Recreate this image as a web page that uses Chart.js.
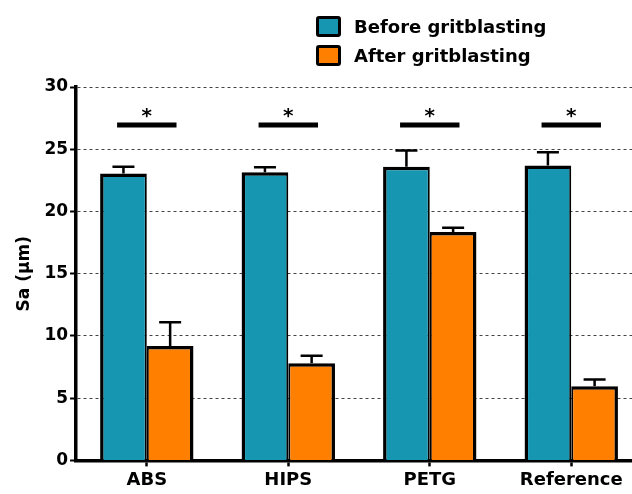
<!DOCTYPE html>
<html>
<head>
<meta charset="utf-8">
<script src="https://cdn.jsdelivr.net/npm/chart.js@4.4.1/dist/chart.umd.min.js"></script>
<style>
  html, body { margin:0; padding:0; background:#fff; overflow:hidden; }
  #wrap { position:relative; width:642px; height:494px; }
  #legend { position:absolute; left:316px; top:12px; font-family:"DejaVu Sans", sans-serif; font-weight:bold; font-size:18px; color:#000; }
  .item { display:flex; align-items:center; height:29px; }
  .box { width:19px; height:15px; border:3px solid #000; border-radius:3px; margin-right:13px; }
</style>
</head>
<body>
<div id="wrap">
  <canvas id="saChart" width="642" height="494"></canvas>
  <div id="legend"></div>
</div>
<script>
const categories = ['ABS', 'HIPS', 'PETG', 'Reference'];
const seriesNames = ['Before gritblasting', 'After gritblasting'];
const beforeValues = [23.05, 23.15, 23.6, 23.7];
const beforeErrors = [0.55, 0.4, 1.3, 1.05];
const afterValues = [9.2, 7.8, 18.35, 5.95];
const afterErrors = [1.9, 0.6, 0.35, 0.55];
const sigLevels = [26.95, 26.95, 26.95, 26.95];
const sigMarks = ['*', '*', '*', '*'];
const yTicks = [0, 5, 10, 15, 20, 25, 30];

const teal = '#1796b1';
const orange = '#ff8000';
const errors = [beforeErrors, afterErrors];

// error bars drawn above each bar (mean + SD)
const errorBars = {
    id: 'errorBars',
    afterDatasetsDraw(chart){
        const c = chart.ctx;
        const y = chart.scales.y;
        c.save();
        c.strokeStyle = '#000';
        c.lineWidth = 2.5;
        chart.data.datasets.forEach((ds, i) => {
            chart.getDatasetMeta(i).data.forEach((bar, j) => {
                const top = y.getPixelForValue(ds.data[j] + errors[i][j]);
                c.beginPath();
                c.moveTo(bar.x, bar.y);
                c.lineTo(bar.x, top);
                c.moveTo(bar.x - 11, top);
                c.lineTo(bar.x + 11, top);
                c.stroke();
            });
        });
        c.restore();
    }
};

// significance line + star over each pair
const sigBars = {
    id: 'sigBars',
    afterDatasetsDraw(chart){
        const c = chart.ctx;
        const x = chart.scales.x;
        const y = chart.scales.y;
        const half = x.width / categories.length * 0.21;
        c.save();
        c.strokeStyle = '#000';
        c.fillStyle = '#000';
        c.lineWidth = 5;
        c.font = 'bold 20px "DejaVu Sans"';
        c.textAlign = 'center';
        c.textBaseline = 'alphabetic';
        sigLevels.forEach((v, j) => {
            const cx = x.getPixelForValue(j);
            const py = y.getPixelForValue(v);
            c.beginPath();
            c.moveTo(cx - half, py);
            c.lineTo(cx + half, py);
            c.stroke();
            c.fillText(sigMarks[j], cx, py - 3);
        });
        c.restore();
    }
};

const ctx = document.getElementById('saChart');

new Chart(ctx, {
    type: 'bar',
    data: {
        labels: categories,
        datasets: [{
            label: seriesNames[0],
            data: beforeValues,
            backgroundColor: teal,
            borderColor: '#000',
            borderWidth: {top:3.5, left:3.5, right:2, bottom:0}
        },{
            label: seriesNames[1],
            data: afterValues,
            backgroundColor: orange,
            borderColor: '#000',
            borderWidth: {top:3.5, left:2, right:3.5, bottom:0}
        }]
    },
    options: {
        responsive: false,
        animation: false,
        categoryPercentage: 0.66,
        barPercentage: 1,
        layout: { padding: {top:87, left:14, right:0, bottom:0} },
        plugins: {
            legend: { display:false },
            tooltip: { enabled:false }
        },
        scales: {
            x: {
                offset: true,
                grid: {
                    offset: false,
                    drawOnChartArea: false,
                    drawTicks: true,
                    tickLength: 6,
                    tickWidth: 2.5,
                    tickColor: '#000'
                },
                border: { color:'#000', width:3.5 },
                ticks: {
                    color: '#000',
                    padding: 3,
                    font: { family:'DejaVu Sans', weight:'bold', size:18 }
                }
            },
            y: {
                min: 0,
                max: 30,
                afterBuildTicks(scale){
                    scale.ticks = yTicks.map(v => ({value:v}));
                },
                grid: {
                    color: ctx => ctx.tick && ctx.tick.value === 0 ? 'rgba(0,0,0,0)' : '#444',
                    lineWidth: 1,
                    tickBorderDash: [],
                    tickColor: '#000',
                    tickWidth: 2,
                    tickLength: 6
                },
                border: { color:'#000', width:3.5, dash:[3, 3] },
                ticks: {
                    color: '#000',
                    padding: 2,
                    font: { family:'DejaVu Sans', weight:'bold', size:17 }
                },
                title: {
                    display: true,
                    text: 'Sa (\u03bcm)',
                    color: '#000',
                    padding: {top:0, bottom:8},
                    font: { family:'DejaVu Sans', weight:'bold', size:17 }
                }
            }
        }
    },
    plugins: [errorBars, sigBars]
});

// html legend built from the series
const legend = document.getElementById('legend');
[teal, orange].forEach((col, i) => {
    legend.innerHTML += `<div class="item"><span class="box" style="background:${col}"></span>${seriesNames[i]}</div>`;
});
</script>
</body>
</html>
